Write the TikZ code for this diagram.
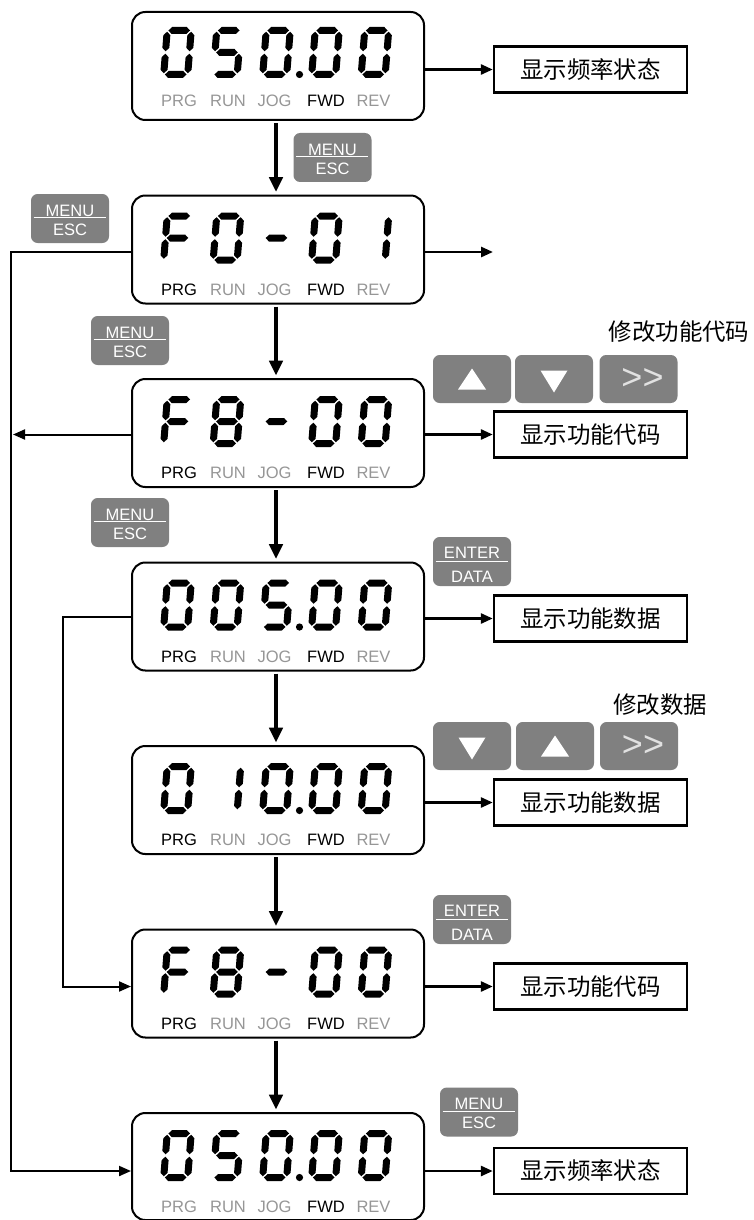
\documentclass[tikz,border=0pt]{standalone}
\usepackage{fontspec}
\setmainfont{Liberation Sans}
\newfontfamily\cjk{Noto Sans CJK SC}
\usetikzlibrary{arrows.meta}
\definecolor{dimtxt}{RGB}{150,150,150}
\definecolor{keygray}{RGB}{128,128,128}
\definecolor{gtgray}{RGB}{225,225,225}
% seven-segment pieces (px, y downward), digit 31 x 51
\newcommand\dsega{\fill (4.7,3.5)--(8.2,0)--(22.8,0)--(26.3,3.5)--(22.8,7)--(8.2,7)--cycle;}
\newcommand\dsegg{\fill (4.7,25.5)--(8.2,22)--(22.8,22)--(26.3,25.5)--(22.8,29)--(8.2,29)--cycle;}
\newcommand\dsegd{\fill (4.7,47.5)--(8.2,44)--(22.8,44)--(26.3,47.5)--(22.8,51)--(8.2,51)--cycle;}
\newcommand\dsegf{\fill (3.5,4.7)--(7,8.2)--(7,20.8)--(3.5,24.3)--(0,20.8)--(0,8.2)--cycle;}
\newcommand\dsegb{\fill (27.5,4.7)--(31,8.2)--(31,20.8)--(27.5,24.3)--(24,20.8)--(24,8.2)--cycle;}
\newcommand\dsege{\fill (3.5,26.7)--(7,30.2)--(7,42.8)--(3.5,46.3)--(0,42.8)--(0,30.2)--cycle;}
\newcommand\dsegc{\fill (27.5,26.7)--(31,30.2)--(31,42.8)--(27.5,46.3)--(24,42.8)--(24,30.2)--cycle;}
\def\dgZero{a,b,c,d,e,f}
\def\dgOne{b,c}
\def\dgFive{a,c,d,f,g}
\def\dgEight{a,b,c,d,e,f,g}
\def\dgF{a,e,f,g}
\def\dgDash{g}
\newcommand\sdig[3]{\begin{scope}[shift={(#1+4,#2)},xslant=0.08]
  \foreach \s in #3 {\csname dseg\s\endcsname}
  \end{scope}}
\newcommand\digrow[6]{\sdig{160}{#1}{#2}\sdig{209.5}{#1}{#3}\sdig{259}{#1}{#4}\sdig{308}{#1}{#5}\sdig{357.5}{#1}{#6}}
\newcommand\segdot[1]{\fill (299.5,#1+47.5) circle (3.6);}
\newcommand\leds[7]{%
  \node[lab,text=#3] (#1p) at (179,#2) {PRG};
  \node[lab,text=#4] (#1r) at (228,#2) {RUN};
  \node[lab,text=#5] (#1j) at (274.5,#2) {JOG};
  \node[lab,text=#6] (#1f) at (326,#2) {FWD};
  \node[lab,text=#7] (#1v) at (373.5,#2) {REV};}
\newcommand\menubtn[3]{%
  \node[btn] (#1) at (#2,#3) {};
  \draw[white,line width=1pt] (#1.north west) ++(3,24) -- ++(72,0);
  \node[btxt] (#1t) at ([yshift=-12.75pt]#1.north) {MENU};
  \node[btxt] (#1b) at ([yshift=-27pt]#1.north) {ESC};}
\newcommand\enterbtn[3]{%
  \node[btn] (#1) at (#2,#3) {};
  \draw[white,line width=1pt] (#1.north west) ++(3,25) -- ++(72,0);
  \node[btxt] (#1t) at ([yshift=-12pt]#1.north) {ENTER};
  \node[btxt] (#1b) at ([yshift=-30pt]#1.north) {DATA};}
\newcommand\upkey[3]{\node[key] (#1) at (#2,#3) {};
  \fill[white] (#1.center) ++(-14,10.5) -- ++(28,0) -- ++(-14,-21) -- cycle;}
\newcommand\dnkey[3]{\node[key] (#1) at (#2,#3) {};
  \fill[white] (#1.center) ++(-13.5,-8.5) -- ++(27,0) -- ++(-13.5,22) -- cycle;}
\newcommand\shkey[3]{\node[key] (#1) at (#2,#3) {};
  \node[inner sep=0pt,text=gtgray,font=\fontsize{27}{30}\selectfont] (#1t) at ([xshift=3pt]#1.center) {>\kern0pt>};}
\begin{document}
\begin{tikzpicture}[x=0.75pt,y=-0.75pt,
  disp/.style={draw,line width=1.5pt,rounded corners=10pt,minimum width=219pt,minimum height=81pt,inner sep=0pt},
  ibox/.style={draw,line width=1.8pt,minimum width=144.75pt,minimum height=34.5pt,inner sep=0pt,font=\cjk\fontsize{17.6}{20}\selectfont},
  btn/.style={fill=keygray,rounded corners=5pt,minimum width=58.5pt,minimum height=36.75pt,inner sep=0pt},
  key/.style={fill=keygray,rounded corners=5pt,minimum width=58.5pt,minimum height=36pt,inner sep=0pt},
  btxt/.style={text=white,inner sep=0pt,font=\fontsize{12.4}{14}\selectfont},
  lab/.style={inner sep=0pt,font=\fontsize{12.4}{14}\selectfont},
  note/.style={inner sep=0pt,font=\cjk\fontsize{17.6}{20}\selectfont},
  varr/.style={line width=2.6pt,-{Triangle[length=11pt,width=10pt]}},
  harr/.style={line width=2pt,-{Triangle[length=9pt,width=7.5pt]}},
  conn/.style={line width=1.5pt},
  ]
\useasboundingbox (0,0) rectangle (753,1220);
% displays
\node[disp] (d1) at (278,66) {};
\node[disp] (d2) at (278,249.5) {};
\node[disp] (d3) at (278,433) {};
\node[disp] (d4) at (278,616.5) {};
\node[disp] (d5) at (278,800) {};
\node[disp] (d6) at (278,983.5) {};
\node[disp,minimum height=80.25pt] (d7) at (278,1166.5) {};
% digits
\digrow{27}{\dgZero}{\dgFive}{\dgZero}{\dgZero}{\dgZero}\segdot{27}
\digrow{212.5}{\dgF}{\dgZero}{\dgDash}{\dgZero}{\dgOne}
\digrow{396}{\dgF}{\dgEight}{\dgDash}{\dgZero}{\dgZero}
\digrow{579.5}{\dgZero}{\dgZero}{\dgFive}{\dgZero}{\dgZero}\segdot{579.5}
\digrow{763}{\dgZero}{\dgOne}{\dgZero}{\dgZero}{\dgZero}\segdot{763}
\digrow{946.5}{\dgF}{\dgEight}{\dgDash}{\dgZero}{\dgZero}
\digrow{1130}{\dgZero}{\dgFive}{\dgZero}{\dgZero}{\dgZero}\segdot{1130}
% indicator labels
\leds{a}{101}{dimtxt}{dimtxt}{dimtxt}{black}{dimtxt}
\leds{b}{289.5}{black}{dimtxt}{dimtxt}{black}{dimtxt}
\leds{c}{473}{black}{dimtxt}{dimtxt}{black}{dimtxt}
\leds{e}{656.5}{black}{dimtxt}{dimtxt}{black}{dimtxt}
\leds{h}{840}{black}{dimtxt}{dimtxt}{black}{dimtxt}
\leds{k}{1023.5}{black}{dimtxt}{dimtxt}{black}{dimtxt}
\leds{m}{1207}{dimtxt}{dimtxt}{dimtxt}{black}{dimtxt}
% info boxes
\node[ibox] (b1) at (590.5,69.5) {显示频率状态};
\node[ibox] (b3) at (590.5,434.5) {显示功能代码};
\node[ibox] (b4) at (590.5,618.5) {显示功能数据};
\node[ibox] (b5) at (590.5,802.5) {显示功能数据};
\node[ibox] (b6) at (590.5,986.5) {显示功能代码};
\node[ibox] (b7) at (590.5,1171) {显示频率状态};
% buttons
\menubtn{m1}{332.5}{157.5}
\menubtn{m2}{70}{218.5}
\menubtn{m3}{130}{340.5}
\menubtn{m4}{130}{522.5}
\enterbtn{n1}{472}{561.5}
\enterbtn{n2}{472}{919.5}
\menubtn{m5}{479}{1112}
% key rows
\node[note] (t1) at (679,332) {修改功能代码};
\upkey{k1}{472}{379}\dnkey{k2}{554}{379}\shkey{k3}{638.5}{379}
\node[note] (t2) at (660,705) {修改数据};
\dnkey{k4}{472}{746}\upkey{k5}{555}{746}\shkey{k6}{639}{746}
% vertical arrows
\foreach \u/\v in {d1/d2,d2/d3,d3/d4,d4/d5,d5/d6,d6/d7}
  \draw[varr,shorten <=1.5pt,shorten >=2pt] ([xshift=-1.5pt]\u.south) -- ([xshift=-1.5pt]\v.north);
% right arrows
\draw[harr] (d1.east |- b1) -- (b1.west);
\coordinate (e2) at (493,252);
\draw[harr] (d2.east |- e2) -- (e2);
\draw[harr] (d3.east |- b3) -- (b3.west);
\draw[harr] (d4.east |- b4) -- (b4.west);
\draw[harr] (d5.east |- b5) -- (b5.west);
\draw[harr] (d6.east |- b6) -- (b6.west);
\draw[harr] (d7.east |- b7) -- (b7.west);
% left loops
\coordinate (la) at (11,252);
\coordinate (lb) at (11,1171);
\draw[conn,-{Triangle[length=9pt,width=7.5pt]}] (d2.west |- la) -- (la) -- (lb) -- (d7.west |- lb);
\coordinate (lc) at (13,434.5);
\draw[conn,-{Triangle[length=9pt,width=7.5pt]}] (d3.west |- lc) -- (lc);
\coordinate (ld) at (63,617);
\coordinate (le) at (63,986.5);
\draw[conn,-{Triangle[length=9pt,width=7.5pt]}] (d4.west |- ld) -- (ld) -- (le) -- (d6.west |- le);
\end{tikzpicture}
\end{document}
